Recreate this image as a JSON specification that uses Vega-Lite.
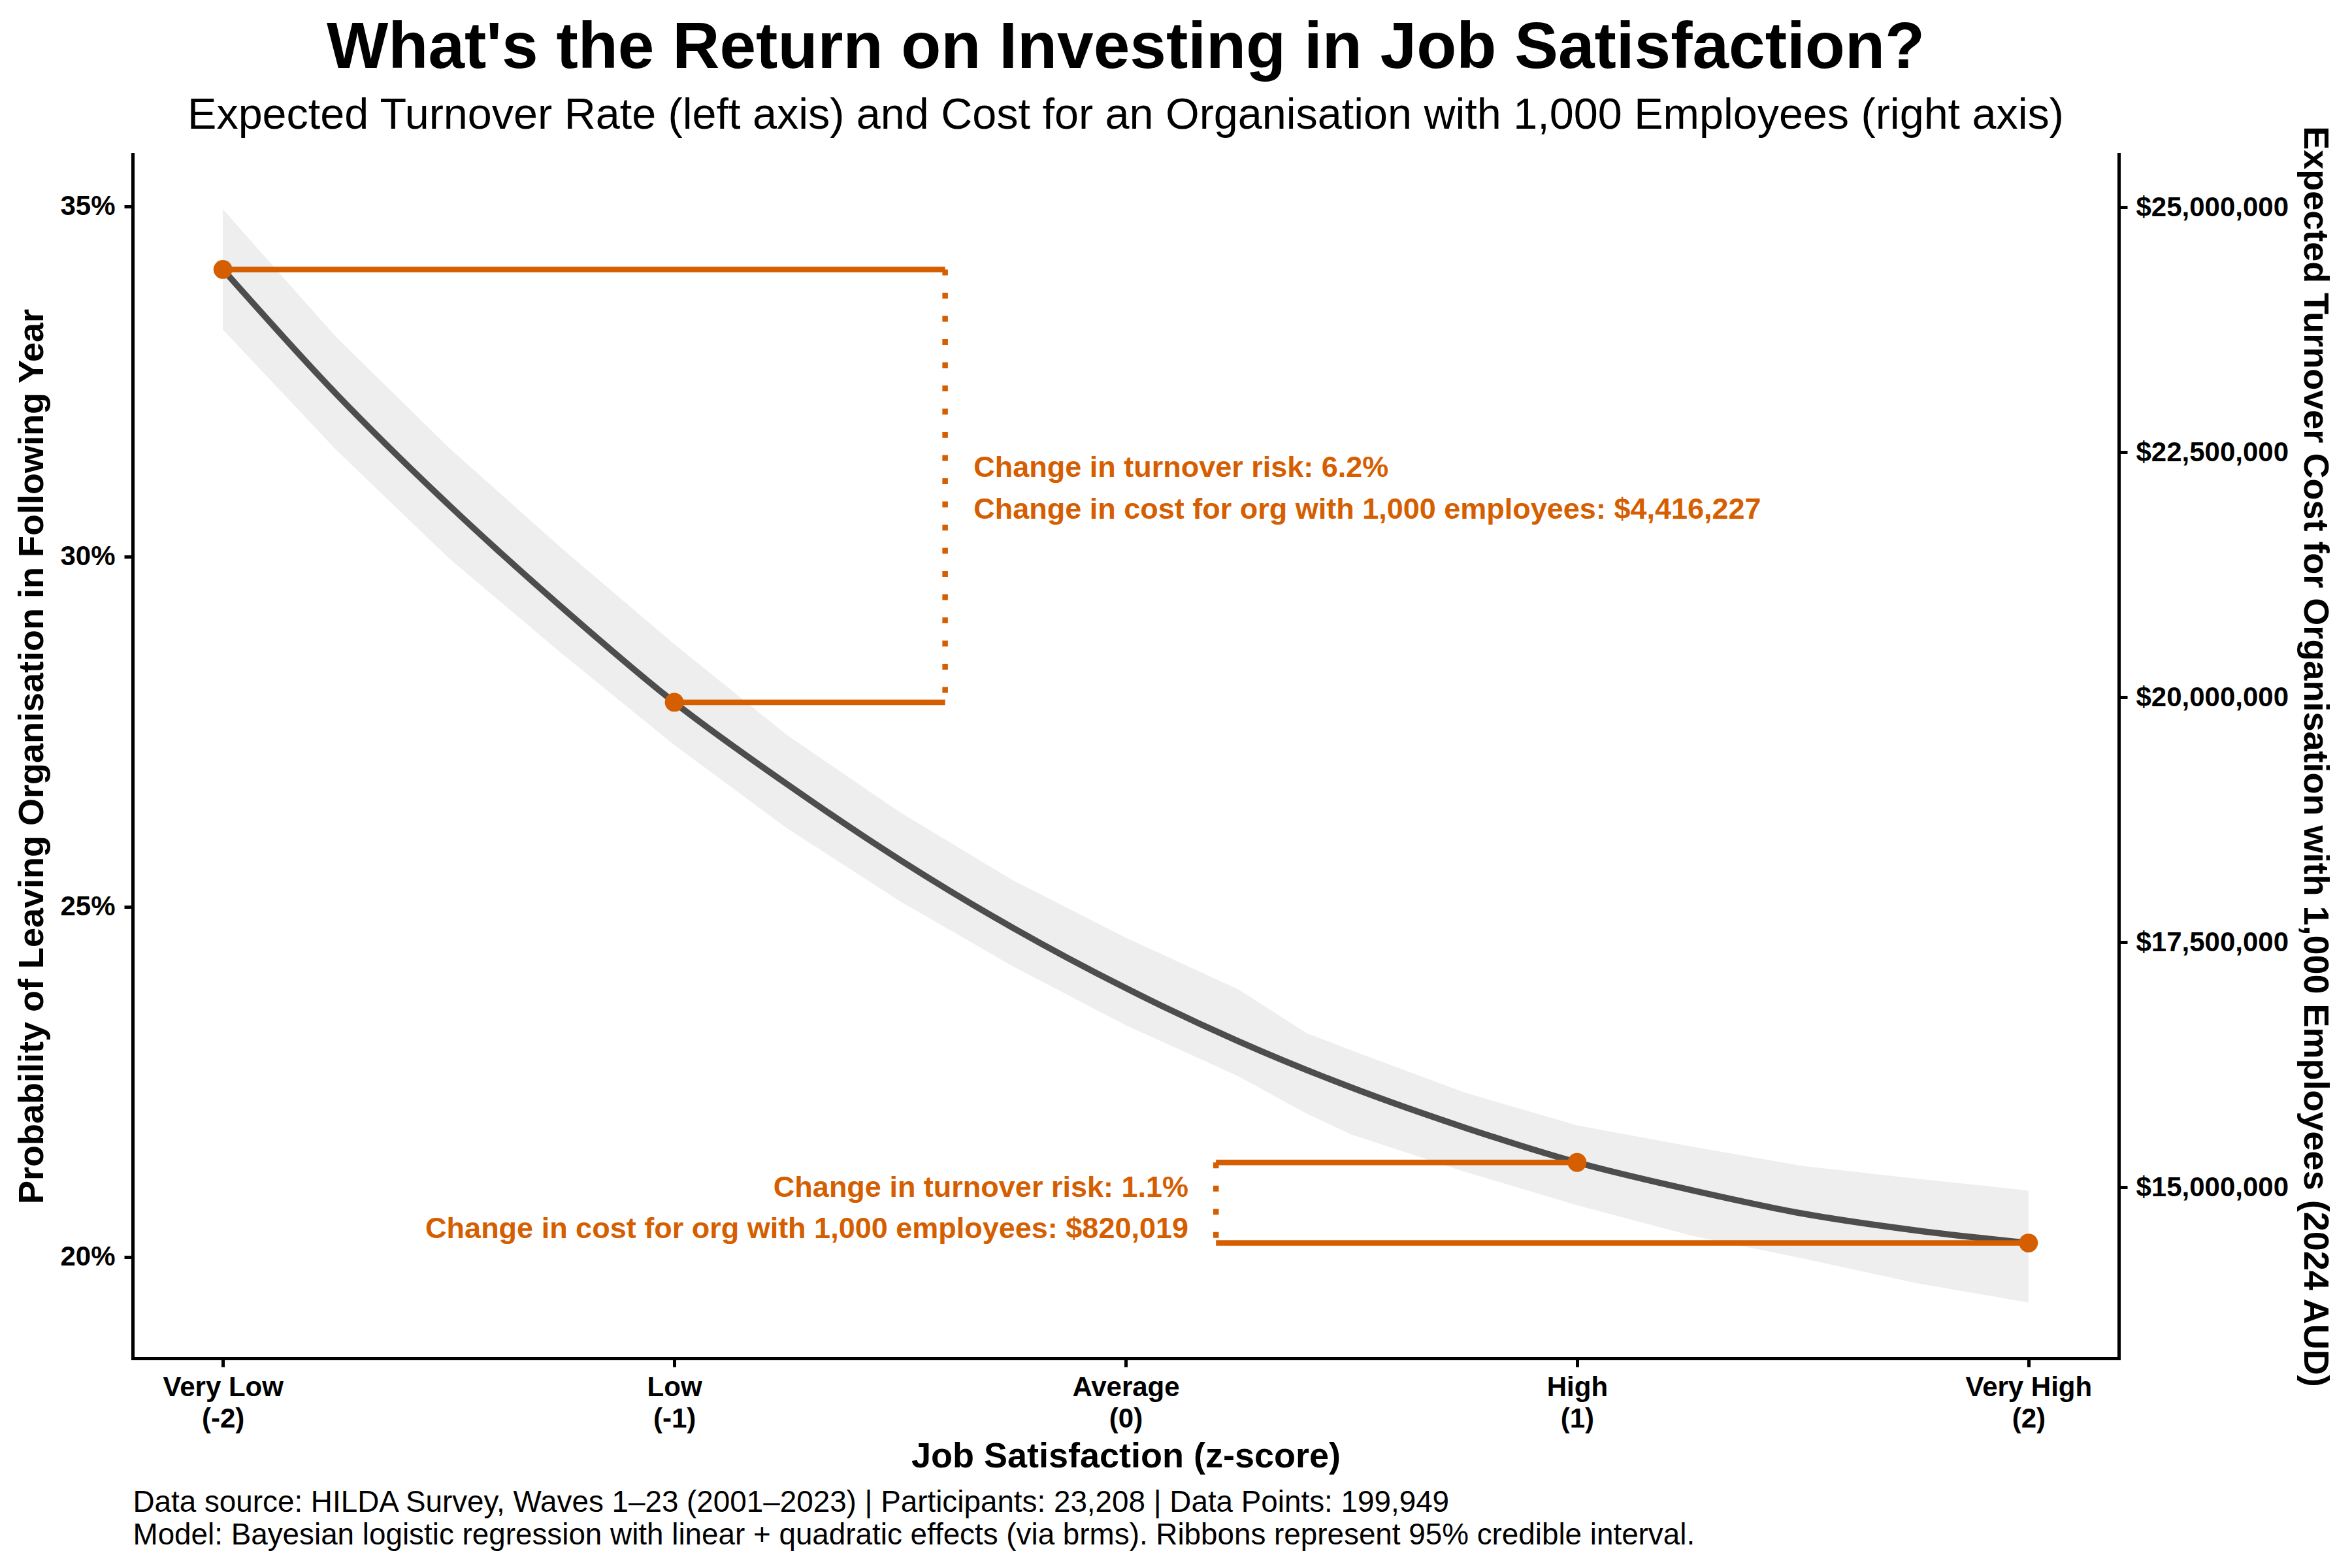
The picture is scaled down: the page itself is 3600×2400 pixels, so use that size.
{
  "$schema": "https://vega.github.io/schema/vega-lite/v6.json",
  "width": 3040,
  "height": 1843,
  "autosize": {"type": "none"},
  "padding": {"left": 203, "top": 236, "right": 357, "bottom": 321},
  "background": "white",
  "config": {"view": {"stroke": null}, "font": "Liberation Sans"},
  "title": {
    "text": "What's the Return on Investing in Job Satisfaction?",
    "subtitle": "Expected Turnover Rate (left axis) and Cost for an Organisation with 1,000 Employees (right axis)",
    "anchor": "middle",
    "frame": "group",
    "font": "Liberation Sans",
    "fontSize": 100,
    "fontWeight": "bold",
    "color": "black",
    "subtitleFont": "Liberation Sans",
    "subtitleFontSize": 66.5,
    "subtitleFontWeight": "normal",
    "subtitleColor": "black",
    "subtitlePadding": 19,
    "offset": -20
  },
  "datasets": {
    "ribbon": [
      {"z": -2, "p": 33.24, "p2": 34.96},
      {"z": -1.75, "p": 31.53, "p2": 33.14},
      {"z": -1.5, "p": 29.98, "p2": 31.56},
      {"z": -1.25, "p": 28.62, "p2": 30.12},
      {"z": -1, "p": 27.31, "p2": 28.75},
      {"z": -0.75, "p": 26.12, "p2": 27.45},
      {"z": -0.5, "p": 25.08, "p2": 26.35},
      {"z": -0.25, "p": 24.15, "p2": 25.38},
      {"z": 0, "p": 23.31, "p2": 24.56},
      {"z": 0.25, "p": 22.58, "p2": 23.82},
      {"z": 0.4, "p": 22.05, "p2": 23.2},
      {"z": 0.5, "p": 21.75, "p2": 22.95},
      {"z": 0.75, "p": 21.22, "p2": 22.35},
      {"z": 1, "p": 20.74, "p2": 21.88},
      {"z": 1.25, "p": 20.31, "p2": 21.58},
      {"z": 1.5, "p": 19.98, "p2": 21.3},
      {"z": 1.75, "p": 19.63, "p2": 21.12},
      {"z": 2, "p": 19.35, "p2": 20.95}
    ],
    "curve": [
      {"z": -2, "p": 34.1},
      {"z": -1.75, "p": 32.33},
      {"z": -1.5, "p": 30.74},
      {"z": -1.25, "p": 29.28},
      {"z": -1, "p": 27.92},
      {"z": -0.75, "p": 26.75},
      {"z": -0.5, "p": 25.67},
      {"z": -0.25, "p": 24.7},
      {"z": 0, "p": 23.84},
      {"z": 0.25, "p": 23.08},
      {"z": 0.5, "p": 22.42},
      {"z": 0.75, "p": 21.85},
      {"z": 1, "p": 21.35},
      {"z": 1.25, "p": 20.96},
      {"z": 1.5, "p": 20.62},
      {"z": 1.75, "p": 20.38},
      {"z": 2, "p": 20.2}
    ],
    "segments": [
      {"kind": "solid", "z": -2, "z2": -0.4, "p": 34.1, "p2": 34.1},
      {"kind": "solid", "z": -1, "z2": -0.4, "p": 27.92, "p2": 27.92},
      {"kind": "solid", "z": 0.2, "z2": 1, "p": 21.35, "p2": 21.35},
      {"kind": "solid", "z": 0.2, "z2": 2, "p": 20.2, "p2": 20.2},
      {"kind": "dotted", "z": -0.4, "z2": -0.4, "p": 34.1, "p2": 27.92},
      {"kind": "dotted", "z": 0.2, "z2": 0.2, "p": 21.35, "p2": 20.2}
    ],
    "points": [
      {"z": -2, "p": 34.1},
      {"z": -1, "p": 27.92},
      {"z": 1, "p": 21.35},
      {"z": 2, "p": 20.2}
    ],
    "notes": [
      {"z": -0.337, "p": 31.14, "side": "left", "label": "Change in turnover risk: 6.2%"},
      {"z": -0.337, "p": 30.54, "side": "left", "label": "Change in cost for org with 1,000 employees: $4,416,227"},
      {"z": 0.139, "p": 20.86, "side": "right", "label": "Change in turnover risk: 1.1%"},
      {"z": 0.139, "p": 20.27, "side": "right", "label": "Change in cost for org with 1,000 employees: $820,019"}
    ],
    "rightaxis": [{"cost": 20000000}],
    "caption": [{"z": 0}]
  },
  "layer": [
    {
      "encoding": {
        "x": {
          "field": "z",
          "type": "quantitative",
          "scale": {"domain": [-2.2, 2.2], "nice": false, "zero": false},
          "axis": {
            "values": [-2, -1, 0, 1, 2],
            "labelExpr": "datum.value == -2 ? ['Very Low', '(-2)'] : datum.value == -1 ? ['Low', '(-1)'] : datum.value == 0 ? ['Average', '(0)'] : datum.value == 1 ? ['High', '(1)'] : ['Very High', '(2)']",
            "title": "Job Satisfaction (z-score)",
            "grid": false,
            "domainColor": "black",
            "domainWidth": 5,
            "domainCap": "square",
            "tickColor": "black",
            "tickWidth": 5,
            "tickSize": 13,
            "labelFont": "Liberation Sans",
            "labelFontSize": 42,
            "labelFontWeight": "bold",
            "labelColor": "black",
            "labelPadding": 11,
            "labelLineHeight": 48,
            "labelLimit": 1000,
            "labelFlush": false,
            "labelOverlap": false,
            "titleFont": "Liberation Sans",
            "titleFontSize": 54,
            "titleFontWeight": "bold",
            "titleColor": "black",
            "titlePadding": 10
          }
        },
        "y": {
          "field": "p",
          "type": "quantitative",
          "scale": {"domain": [18.554, 35.746], "nice": false, "zero": false},
          "axis": {
            "values": [20, 25, 30, 35],
            "labelExpr": "datum.value + '%'",
            "title": "Probability of Leaving Organisation in Following Year",
            "grid": false,
            "domainColor": "black",
            "domainWidth": 5,
            "domainCap": "square",
            "tickColor": "black",
            "tickWidth": 5,
            "tickSize": 13,
            "labelFont": "Liberation Sans",
            "labelFontSize": 42,
            "labelFontWeight": "bold",
            "labelColor": "black",
            "labelPadding": 14,
            "labelLimit": 1000,
            "titleFont": "Liberation Sans",
            "titleFontSize": 54,
            "titleFontWeight": "bold",
            "titleColor": "black",
            "titlePadding": 15
          }
        }
      },
      "layer": [
        {
          "data": {"name": "ribbon"},
          "mark": {"type": "area", "color": "#EEEEEE", "opacity": 1, "interpolate": "linear"},
          "encoding": {"y2": {"field": "p2"}}
        },
        {
          "data": {"name": "curve"},
          "mark": {"type": "line", "color": "#4D4D4D", "strokeWidth": 9.5, "interpolate": "monotone", "strokeCap": "butt"}
        },
        {
          "data": {"name": "segments"},
          "transform": [{"filter": "datum.kind == 'solid'"}],
          "mark": {"type": "rule", "color": "#D55E00", "strokeWidth": 8.5, "strokeCap": "butt"},
          "encoding": {"x2": {"field": "z2"}, "y2": {"field": "p2"}}
        },
        {
          "data": {"name": "segments"},
          "transform": [{"filter": "datum.kind == 'dotted'"}],
          "mark": {"type": "rule", "color": "#D55E00", "strokeWidth": 8.5, "strokeCap": "butt", "strokeDash": [9, 26.5]},
          "encoding": {"x2": {"field": "z2"}, "y2": {"field": "p2"}}
        },
        {
          "data": {"name": "points"},
          "mark": {"type": "circle", "color": "#D55E00", "opacity": 1, "size": 830}
        },
        {
          "data": {"name": "notes"},
          "transform": [{"filter": "datum.side == 'left'"}],
          "mark": {"type": "text", "align": "left", "baseline": "alphabetic", "font": "Liberation Sans", "fontSize": 45, "fontWeight": "bold", "color": "#D55E00"},
          "encoding": {"text": {"field": "label"}}
        },
        {
          "data": {"name": "notes"},
          "transform": [{"filter": "datum.side == 'right'"}],
          "mark": {"type": "text", "align": "right", "baseline": "alphabetic", "font": "Liberation Sans", "fontSize": 45, "fontWeight": "bold", "color": "#D55E00"},
          "encoding": {"text": {"field": "label"}}
        }
      ]
    },
    {
      "data": {"name": "rightaxis"},
      "mark": {"type": "rule", "opacity": 0},
      "encoding": {
        "y": {
          "field": "cost",
          "type": "quantitative",
          "scale": {"domain": [13257000, 25541000], "nice": false, "zero": false},
          "axis": {
            "orient": "right",
            "values": [15000000, 17500000, 20000000, 22500000, 25000000],
            "format": "$,.0f",
            "title": "Expected Turnover Cost for Organisation with 1,000 Employees (2024 AUD)",
            "grid": false,
            "domainColor": "black",
            "domainWidth": 5,
            "domainCap": "square",
            "tickColor": "black",
            "tickWidth": 5,
            "tickSize": 13,
            "labelFont": "Liberation Sans",
            "labelFontSize": 42,
            "labelFontWeight": "bold",
            "labelColor": "black",
            "labelPadding": 13,
            "labelLimit": 1000,
            "titleFont": "Liberation Sans",
            "titleFontSize": 54,
            "titleFontWeight": "bold",
            "titleColor": "black",
            "titlePadding": 72
          }
        }
      }
    },
    {
      "data": {"name": "caption"},
      "mark": {"type": "rule", "opacity": 0},
      "encoding": {
        "x": {
          "field": "z",
          "type": "quantitative",
          "scale": {"domain": [-2.2, 2.2], "nice": false, "zero": false},
          "axis": {
            "orient": "bottom",
            "domain": false,
            "ticks": false,
            "labels": false,
            "grid": false,
            "title": [
              "Data source: HILDA Survey, Waves 1–23 (2001–2023) | Participants: 23,208 | Data Points: 199,949",
              "Model: Bayesian logistic regression with linear + quadratic effects (via brms). Ribbons represent 95% credible interval."
            ],
            "titleFont": "Liberation Sans",
            "titleFontSize": 45.8,
            "titleFontWeight": "normal",
            "titleColor": "black",
            "titleAlign": "left",
            "titleAnchor": "start",
            "titleBaseline": "alphabetic",
            "titleAngle": 0,
            "titleX": 0,
            "titleY": 234,
            "titleLineHeight": 50,
            "titleLimit": 5000
          }
        }
      }
    }
  ],
  "resolve": {
    "scale": {"x": "independent", "y": "independent"},
    "axis": {"x": "independent", "y": "independent"}
  }
}
